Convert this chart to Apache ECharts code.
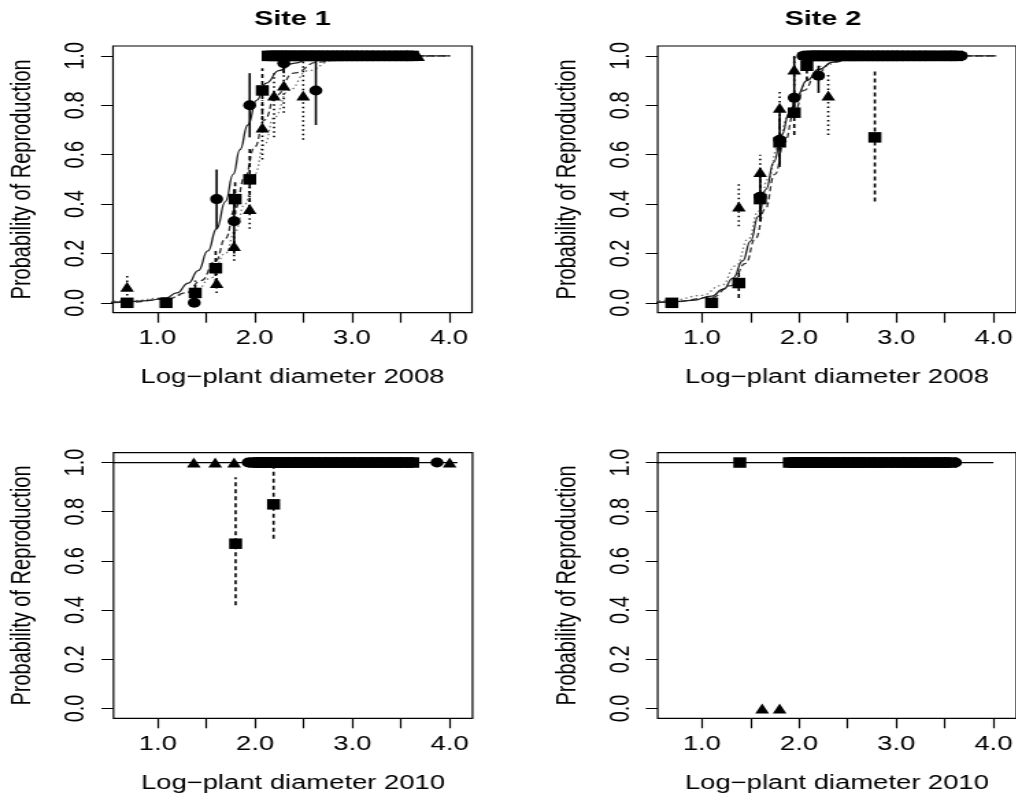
<!DOCTYPE html>
<html>
<head>
<meta charset="utf-8">
<script src="https://cdn.jsdelivr.net/npm/echarts@6/dist/echarts.min.js"></script>
<style>
html,body{margin:0;padding:0;background:#fff;overflow:hidden;width:1016px;height:801px;}
#chart{position:absolute;left:0;top:0;height:801px;transform-origin:0 0;}
</style>
</head>
<body>
<div id="chart"></div>
<script>
// ---------------- DATA ----------------
const xTicks = [1.0, 1.5, 2.0, 2.5, 3.0, 3.5, 4.0];
const xLabels = [1.0, 2.0, 3.0, 4.0];
const yTicks = [0.0, 0.2, 0.4, 0.6, 0.8, 1.0];
const panelTitles = ["Site 1", "Site 2"];
const xTitles = ["Log\u2212plant diameter 2008", "Log\u2212plant diameter 2008", "Log\u2212plant diameter 2010", "Log\u2212plant diameter 2010"];
const yTitle = "Probability of Reproduction";

// Panel 1: Site 1, 2008
const p1CircleX  = [1.38, 1.61, 1.79, 1.95, 2.30, 2.63];
const p1CircleY  = [0.00, 0.42, 0.33, 0.80, 0.97, 0.86];
const p1CircleLo = [0.00, 0.30, 0.20, 0.67, 0.93, 0.72];
const p1CircleHi = [0.00, 0.54, 0.46, 0.93, 1.00, 0.99];
const p1CircleRow = [2.22, 2.31, 2.40, 2.49, 2.58, 2.66, 2.74, 2.82, 2.90, 2.98, 3.06, 3.14, 3.22, 3.30, 3.39, 3.48, 3.56];
const p1SquareX  = [0.69, 1.09, 1.39, 1.60, 1.80, 1.95, 2.08];
const p1SquareY  = [0.00, 0.00, 0.04, 0.14, 0.42, 0.50, 0.86];
const p1SquareLo = [0.00, 0.00, 0.00, 0.08, 0.33, 0.38, 0.74];
const p1SquareHi = [0.00, 0.00, 0.09, 0.22, 0.50, 0.63, 0.95];
const p1SquareRow = [2.14, 2.18, 2.22, 2.26, 2.30, 2.34, 2.38, 2.43, 2.47, 2.52, 2.56, 2.61, 2.65, 2.70, 2.75, 2.80, 2.85, 2.90, 2.95, 3.00, 3.05, 3.10, 3.16, 3.21, 3.27, 3.33, 3.39, 3.45, 3.51, 3.57, 3.62];
const p1TriX  = [0.69, 1.61, 1.79, 1.95, 2.08, 2.20, 2.30, 2.50];
const p1TriY  = [0.065, 0.08, 0.23, 0.38, 0.71, 0.84, 0.88, 0.84];
const p1TriLo = [0.03, 0.04, 0.17, 0.30, 0.58, 0.67, 0.77, 0.66];
const p1TriHi = [0.12, 0.15, 0.29, 0.50, 0.82, 0.93, 0.96, 0.98];
const p1TriRow = [2.39, 2.55, 2.62, 2.70, 2.78, 2.88, 3.00, 3.06, 3.13, 3.22, 3.30, 3.38, 3.46, 3.57, 3.68];
const p1SolidX  = [0.44, 0.69, 0.90, 1.09, 1.20, 1.32, 1.42, 1.52, 1.61, 1.70, 1.78, 1.85, 1.93, 2.02, 2.12, 2.25, 2.40, 2.60, 2.90, 3.50, 4.01];
const p1SolidY  = [0.00, 0.004, 0.009, 0.02, 0.04, 0.08, 0.13, 0.21, 0.30, 0.41, 0.52, 0.62, 0.72, 0.82, 0.89, 0.94, 0.97, 0.99, 0.998, 1.00, 1.00];
const p1DashX   = [0.44, 0.69, 1.10, 1.30, 1.45, 1.60, 1.70, 1.80, 1.90, 2.00, 2.10, 2.22, 2.40, 2.65, 3.00, 3.50, 4.01];
const p1DashY   = [0.00, 0.002, 0.015, 0.04, 0.09, 0.17, 0.26, 0.38, 0.51, 0.63, 0.74, 0.84, 0.93, 0.975, 0.995, 1.00, 1.00];
const p1DotX    = [0.44, 0.69, 1.10, 1.40, 1.55, 1.70, 1.80, 1.90, 2.00, 2.10, 2.20, 2.35, 2.55, 2.80, 3.20, 4.01];
const p1DotY    = [0.005, 0.008, 0.02, 0.05, 0.10, 0.20, 0.29, 0.40, 0.52, 0.64, 0.75, 0.86, 0.94, 0.98, 0.995, 1.00];

// Panel 2: Site 2, 2008
const p2CircleX  = [1.60, 1.80, 1.95, 2.20];
const p2CircleY  = [0.43, 0.66, 0.83, 0.92];
const p2CircleLo = [0.33, 0.55, 0.78, 0.85];
const p2CircleHi = [0.53, 0.78, 1.00, 0.96];
const p2CircleRow = [2.04, 2.15, 2.27, 2.40, 2.52, 2.64, 2.76, 2.88, 3.00, 3.12, 3.24, 3.36, 3.48, 3.58, 3.67];
const p2SquareX  = [0.69, 1.10, 1.38, 1.60, 1.80, 1.95, 2.08, 2.78];
const p2SquareY  = [0.00, 0.00, 0.08, 0.42, 0.65, 0.77, 0.96, 0.67];
const p2SquareLo = [0.00, 0.00, 0.02, 0.35, 0.56, 0.68, 0.90, 0.41];
const p2SquareHi = [0.00, 0.00, 0.13, 0.50, 0.75, 0.86, 1.00, 0.94];
const p2SquareRow = [2.10, 2.14, 2.18, 2.22, 2.26, 2.30, 2.35, 2.39, 2.43, 2.48, 2.52, 2.57, 2.61, 2.66, 2.71, 2.76, 2.81, 2.86, 2.91, 2.96, 3.01, 3.06, 3.12, 3.18, 3.24, 3.30, 3.36, 3.43, 3.50, 3.56, 3.62];
const p2TriX  = [1.38, 1.60, 1.80, 1.95, 2.30];
const p2TriY  = [0.39, 0.53, 0.79, 0.945, 0.84];
const p2TriLo = [0.31, 0.45, 0.72, 0.88, 0.68];
const p2TriHi = [0.48, 0.60, 0.86, 1.00, 0.93];
const p2TriRow = [2.18, 2.38, 2.45, 2.51, 2.67, 2.75, 2.83, 2.90, 2.97, 3.04, 3.19, 3.24, 3.29, 3.35, 3.42, 3.49];
const p2SolidX  = [0.44, 0.69, 0.90, 1.10, 1.22, 1.32, 1.42, 1.50, 1.58, 1.66, 1.74, 1.82, 1.90, 1.98, 2.08, 2.20, 2.35, 2.55, 2.80, 3.20, 4.03];
const p2SolidY  = [0.00, 0.004, 0.01, 0.027, 0.055, 0.10, 0.17, 0.25, 0.35, 0.46, 0.57, 0.68, 0.77, 0.84, 0.90, 0.945, 0.975, 0.99, 0.997, 1.00, 1.00];
const p2DashX   = [0.44, 0.69, 1.10, 1.30, 1.45, 1.55, 1.65, 1.75, 1.85, 1.95, 2.05, 2.18, 2.35, 2.60, 3.00, 4.03];
const p2DashY   = [0.00, 0.003, 0.022, 0.07, 0.16, 0.26, 0.38, 0.52, 0.65, 0.77, 0.86, 0.93, 0.975, 0.993, 1.00, 1.00];
const p2DotX    = [0.44, 0.69, 1.00, 1.20, 1.35, 1.48, 1.58, 1.68, 1.78, 1.88, 1.98, 2.10, 2.25, 2.45, 2.75, 4.03];
const p2DotY    = [0.005, 0.01, 0.03, 0.07, 0.15, 0.26, 0.37, 0.50, 0.63, 0.75, 0.84, 0.91, 0.96, 0.985, 0.997, 1.00];

// Panel 3: Site 1, 2010
const p3CircleRow = [1.93, 2.02, 2.10, 2.18, 2.26, 2.34, 2.42, 2.50, 2.58, 2.66, 2.74, 2.83, 2.92, 3.01, 3.10, 3.20, 3.30, 3.40, 3.50, 3.62, 3.87];
const p3SquareX  = [1.80, 2.19];
const p3SquareY  = [0.67, 0.83];
const p3SquareLo = [0.42, 0.69];
const p3SquareHi = [0.94, 1.00];
const p3SquareRow = [2.00, 2.04, 2.08, 2.12, 2.16, 2.21, 2.25, 2.30, 2.35, 2.40, 2.45, 2.50, 2.55, 2.60, 2.66, 2.72, 2.78, 2.84, 2.90, 2.96, 3.02, 3.08, 3.14, 3.20, 3.26, 3.32, 3.38, 3.44, 3.50, 3.56, 3.62];
const p3TriRow = [1.37, 1.59, 1.785, 2.22, 2.35, 2.48, 2.60, 2.72, 2.83, 2.96, 3.09, 3.20, 3.32, 3.44, 4.00];
const p3LineX = [0.42, 4.08];
const p3LineY = [1.00, 1.00];

// Panel 4: Site 2, 2010
const p4CircleRow = [1.95, 2.06, 2.16, 2.26, 2.36, 2.46, 2.56, 2.66, 2.76, 2.86, 2.97, 3.08, 3.19, 3.30, 3.41, 3.50, 3.61];
const p4SquareRow = [1.39, 1.90, 1.94, 1.98, 2.02, 2.06, 2.10, 2.14, 2.18, 2.22, 2.26, 2.31, 2.36, 2.41, 2.46, 2.51, 2.56, 2.61, 2.66, 2.72, 2.78, 2.84, 2.90, 2.96, 3.02, 3.08, 3.14, 3.20, 3.26, 3.32, 3.38, 3.44, 3.50, 3.56];
const p4TriX = [1.62, 1.80];
const p4TriY = [0.00, 0.00];
const p4TriRow = [2.06, 2.16, 2.26, 2.36, 2.46, 2.56, 2.66, 2.80, 3.08, 3.18, 3.28, 3.38, 3.50];
const p4LineX = [0.40, 4.00];
const p4LineY = [1.00, 1.00];

// ---------------- LAYOUT ----------------
const S = 1.37;               // horizontal stretch of the original figure
const H = v => v / S;          // target pixel -> chart pixel (horizontal)
const el = document.getElementById('chart');
el.style.width = (1016 / S) + 'px';
el.style.transform = 'scaleX(' + S + ')';

const FONT = 'Liberation Sans, Arial, Helvetica, sans-serif';
const boxes = [
  {l: 113,   t: 46,    w: 359, h: 266.7},
  {l: 657.7, t: 46,    w: 359, h: 266.7},
  {l: 113.5, t: 452.7, w: 359, h: 265.6},
  {l: 657.7, t: 452.7, w: 359, h: 265.6}
];
const fmt1 = v => Number(v).toFixed(1);

const grid = boxes.map(b => ({
  left: H(b.l), top: b.t, width: H(b.w), height: b.h,
  show: true, borderColor: '#000', borderWidth: 1.2, backgroundColor: 'transparent', containLabel: false
}));

const xAxis = boxes.map((b, i) => ({
  gridIndex: i, type: 'value', min: 0.545, max: 4.235,
  axisLine: {show: false, onZero: false},
  splitLine: {show: false},
  axisTick: {show: true, customValues: xTicks, length: 10, lineStyle: {color: '#000', width: 1.2}},
  axisLabel: {show: true, customValues: xLabels, formatter: fmt1, color: '#000', fontSize: 20, fontFamily: FONT, margin: 16},
  name: xTitles[i], nameLocation: 'middle', nameGap: 55,
  nameTextStyle: {color: '#000', fontSize: 20, fontFamily: FONT}
}));

const yAxis = boxes.map((b, i) => ({
  gridIndex: i, type: 'value', min: -0.04, max: 1.04,
  axisLine: {show: false, onZero: false},
  splitLine: {show: false},
  axisTick: {show: true, customValues: yTicks, length: H(12), lineStyle: {color: '#000', width: 1}},
  axisLabel: {show: true, customValues: yTicks, formatter: fmt1, rotate: 90, color: '#000', fontSize: 20, fontFamily: FONT, margin: 17},
  name: yTitle, nameLocation: 'middle', nameGap: 56,
  nameTextStyle: {color: '#000', fontSize: 20, fontFamily: FONT}
}));

const pairs = (xs, ys) => xs.map((x, k) => [x, ys[k]]);
const ones = xs => xs.map(x => [x, 1]);

function curve(i, xs, ys, type, color) {
  return {
    type: 'line', xAxisIndex: i, yAxisIndex: i, data: pairs(xs, ys),
    smooth: 0.5, smoothMonotone: 'x', showSymbol: false, symbol: 'none', clip: false, silent: true,
    lineStyle: {color: color, width: 1.3, type: type}, z: 2
  };
}
function bars(i, xs, lo, hi, dash, width) {
  return {
    type: 'custom', xAxisIndex: i, yAxisIndex: i, silent: true, z: 3,
    data: xs.map((x, k) => [x, lo[k], hi[k]]),
    encode: {x: 0, y: [1, 2]},
    renderItem: (params, api) => {
      const a = api.coord([api.value(0), api.value(1)]);
      const b = api.coord([api.value(0), api.value(2)]);
      return {type: 'line', shape: {x1: a[0], y1: a[1], x2: b[0], y2: b[1]},
              style: {stroke: '#000', lineWidth: width, lineDash: dash}};
    }
  };
}
const SYM = {
  circle: {symbol: 'circle', size: [9.5, 10]},
  square: {symbol: 'rect', size: [9.5, 10.5]},
  tri: {symbol: 'triangle', size: [10, 10]}
};
function pts(i, data, kind) {
  return {
    type: 'scatter', xAxisIndex: i, yAxisIndex: i, data: data, silent: true, z: 4,
    symbol: SYM[kind].symbol, symbolSize: SYM[kind].size,
    itemStyle: {color: '#000', opacity: 1}
  };
}
const DASH = [4, 3], DOT = [1.5, 3];

const series = [
  // panel 1
  curve(0, p1DotX, p1DotY, [1.5, 2.5], '#777'),
  curve(0, p1DashX, p1DashY, [5, 3], '#333'),
  curve(0, p1SolidX, p1SolidY, 'solid', '#222'),
  bars(0, p1TriX, p1TriLo, p1TriHi, DOT, 1.6),
  bars(0, p1SquareX, p1SquareLo, p1SquareHi, DASH, 1.6),
  bars(0, p1CircleX, p1CircleLo, p1CircleHi, null, 1.6),
  pts(0, pairs(p1CircleX, p1CircleY).concat(ones(p1CircleRow)), 'circle'),
  pts(0, pairs(p1TriX, p1TriY).concat(ones(p1TriRow)), 'tri'),
  pts(0, pairs(p1SquareX, p1SquareY).concat(ones(p1SquareRow)), 'square'),
  // panel 2
  curve(1, p2DotX, p2DotY, [1.5, 2.5], '#777'),
  curve(1, p2DashX, p2DashY, [5, 3], '#333'),
  curve(1, p2SolidX, p2SolidY, 'solid', '#222'),
  bars(1, p2TriX, p2TriLo, p2TriHi, DOT, 1.6),
  bars(1, p2SquareX, p2SquareLo, p2SquareHi, DASH, 1.6),
  bars(1, p2CircleX, p2CircleLo, p2CircleHi, null, 1.6),
  pts(1, pairs(p2CircleX, p2CircleY).concat(ones(p2CircleRow)), 'circle'),
  pts(1, pairs(p2TriX, p2TriY).concat(ones(p2TriRow)), 'tri'),
  pts(1, pairs(p2SquareX, p2SquareY).concat(ones(p2SquareRow)), 'square'),
  // panel 3
  curve(2, p3LineX, p3LineY, 'solid', '#000'),
  bars(2, p3SquareX, p3SquareLo, p3SquareHi, DASH, 1.6),
  pts(2, ones(p3CircleRow), 'circle'),
  pts(2, ones(p3TriRow), 'tri'),
  pts(2, pairs(p3SquareX, p3SquareY).concat(ones(p3SquareRow)), 'square'),
  // panel 4
  curve(3, p4LineX, p4LineY, 'solid', '#000'),
  pts(3, ones(p4CircleRow), 'circle'),
  pts(3, pairs(p4TriX, p4TriY).concat(ones(p4TriRow)), 'tri'),
  pts(3, ones(p4SquareRow), 'square')
];

const graphic = [
  {type: 'text', x: H(292.5), y: 19, style: {text: panelTitles[0], fill: '#000', fontSize: 21, fontWeight: 'bold', fontFamily: FONT, align: 'center', verticalAlign: 'middle'}},
  {type: 'text', x: H(823), y: 19, style: {text: panelTitles[1], fill: '#000', fontSize: 21, fontWeight: 'bold', fontFamily: FONT, align: 'center', verticalAlign: 'middle'}}
];

const chart = echarts.init(el, null, {renderer: 'canvas'});
chart.setOption({
  animation: false,
  backgroundColor: '#fff',
  grid: grid, xAxis: xAxis, yAxis: yAxis, series: series, graphic: graphic
});
</script>
</body>
</html>
